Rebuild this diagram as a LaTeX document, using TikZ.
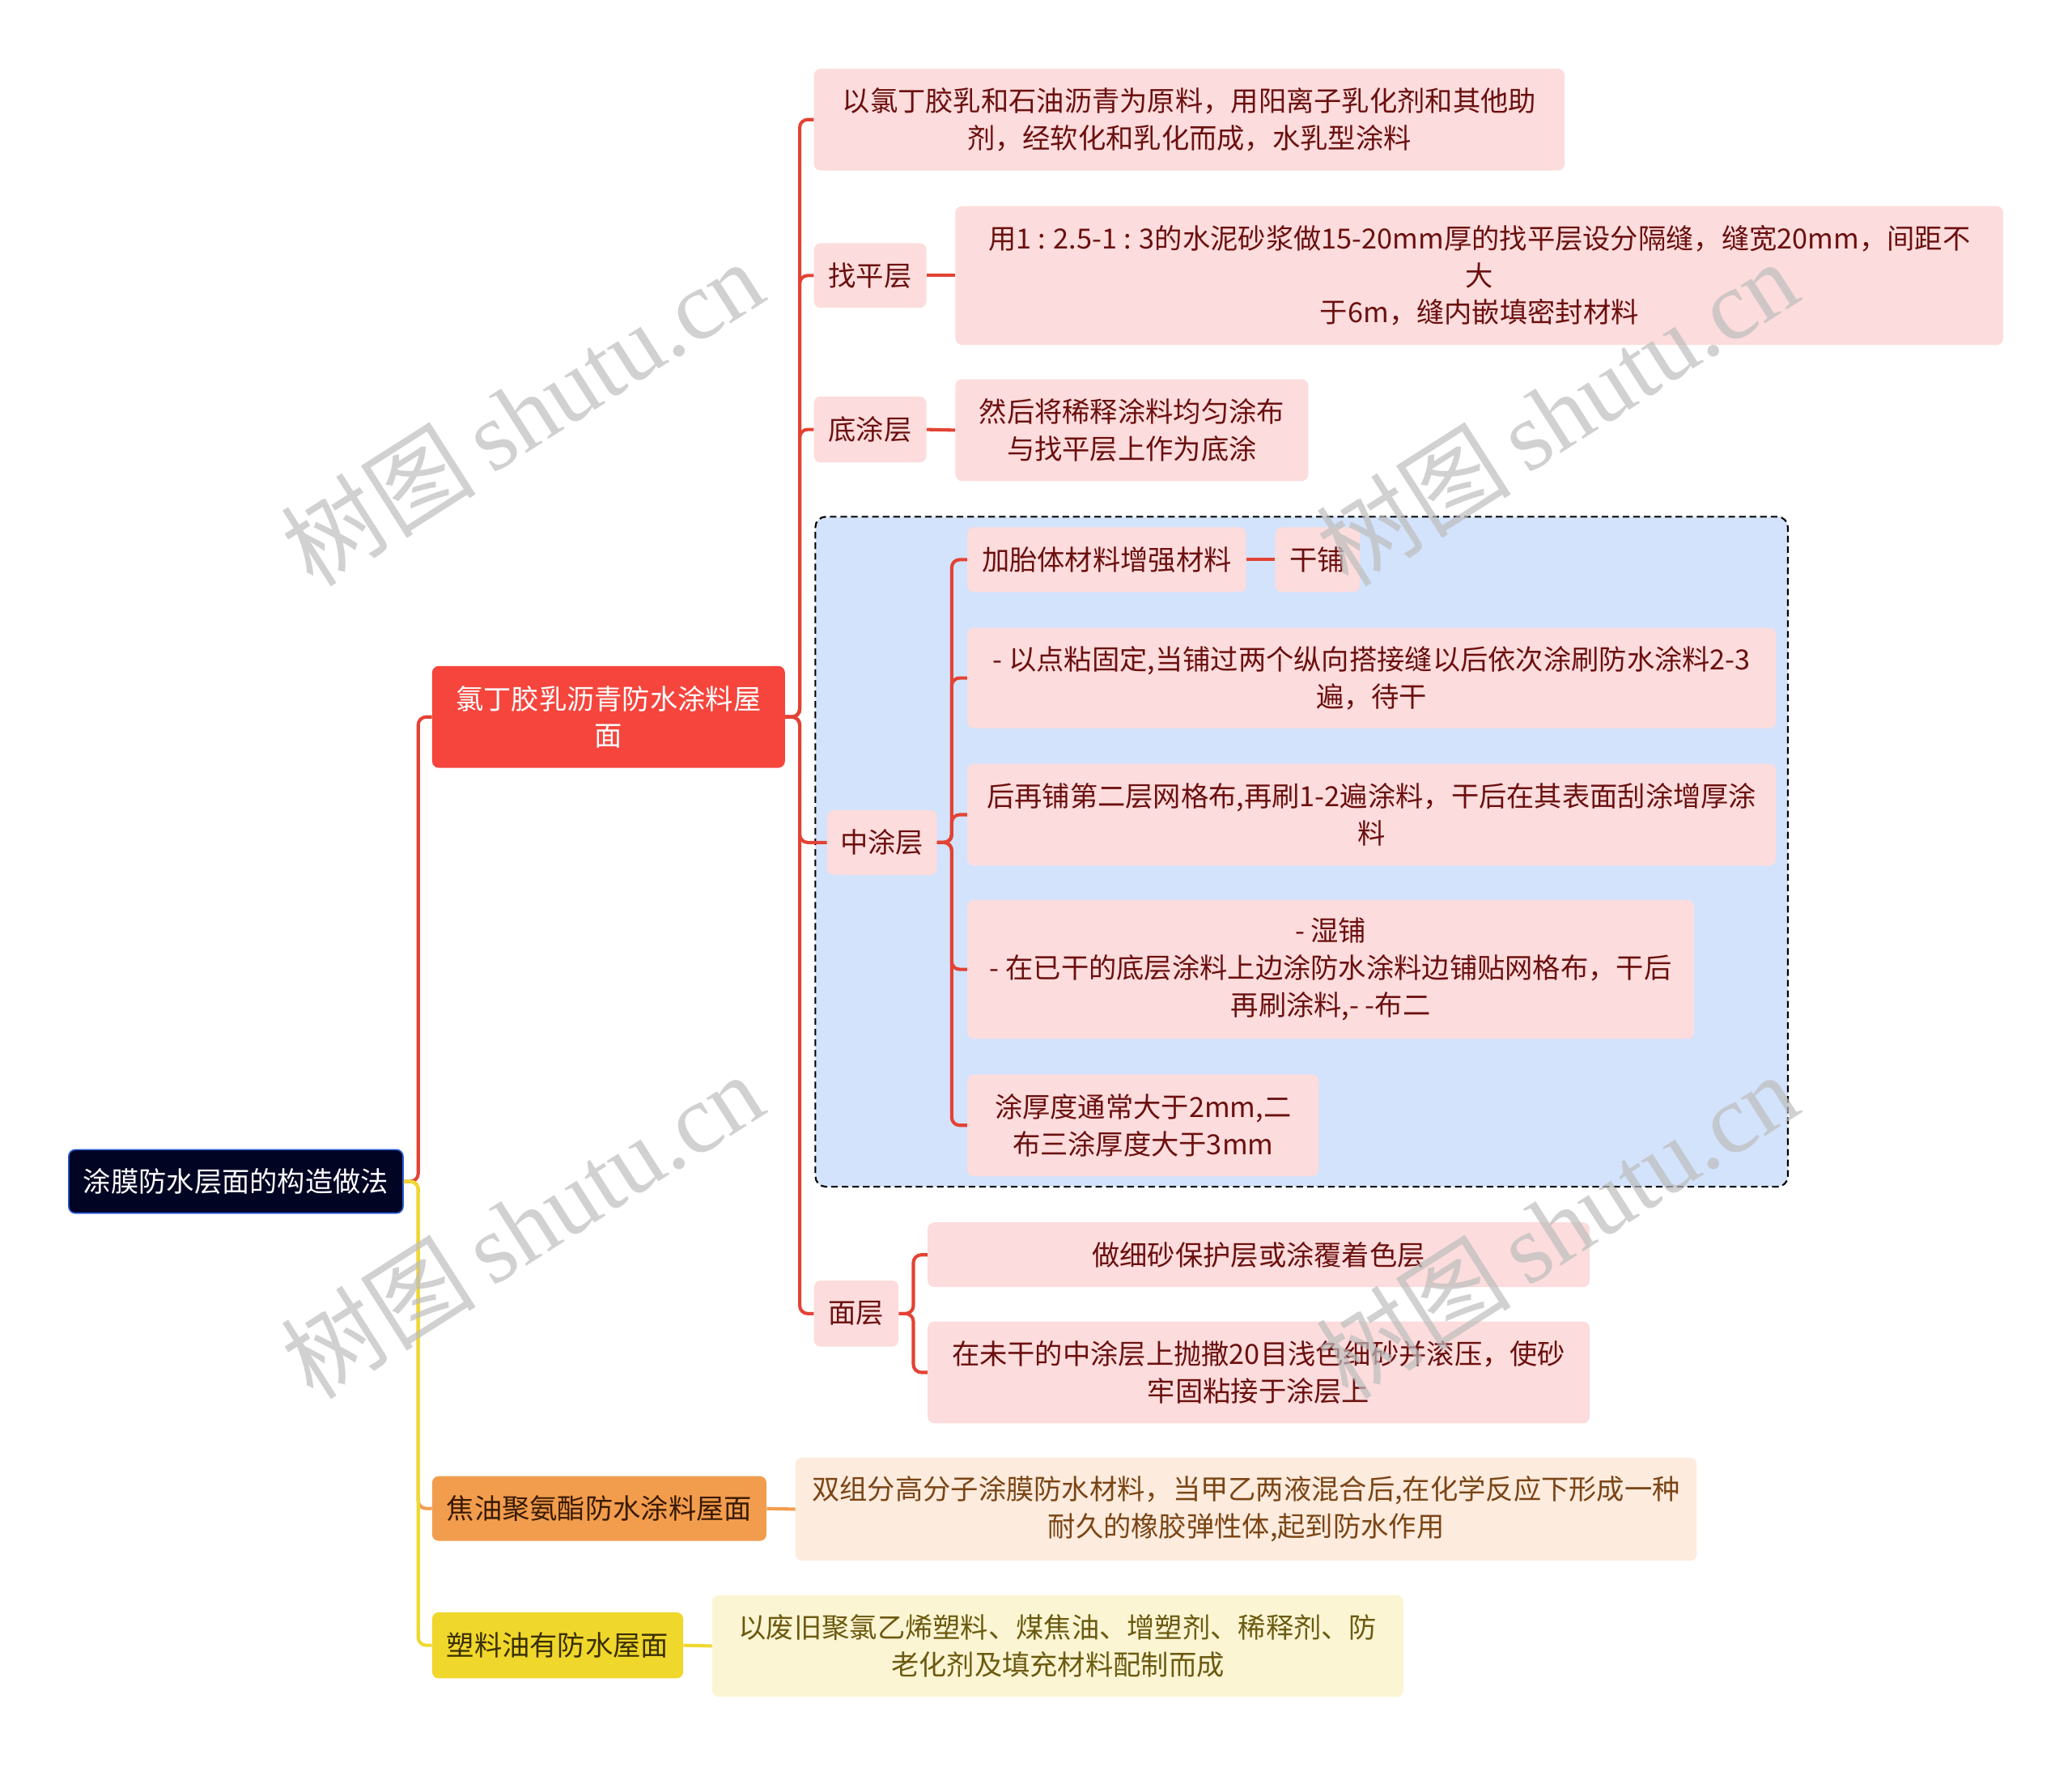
\documentclass[tikz,border=0pt]{standalone}
\usepackage{fontspec}
\setmainfont{Noto Sans CJK SC}
\newfontfamily\wmfont{Liberation Serif}
\newfontfamily\wmcjk{Noto Sans CJK SC}
\definecolor{rootfill}{HTML}{020424}
\definecolor{rootdraw}{HTML}{2A5AD8}
\definecolor{redfill}{HTML}{F5453D}
\definecolor{pinkfill}{HTML}{FCDCDC}
\definecolor{pinktext}{HTML}{6B0F0F}
\definecolor{bluefill}{HTML}{D4E3FC}
\definecolor{orfill}{HTML}{F29D4E}
\definecolor{ortext}{HTML}{3A1A00}
\definecolor{orleaf}{HTML}{FDEBDD}
\definecolor{orleaftext}{HTML}{7A4516}
\definecolor{yefill}{HTML}{F0D72B}
\definecolor{yetext}{HTML}{3A3000}
\definecolor{yeleaf}{HTML}{FCF5D3}
\definecolor{yeleaftext}{HTML}{6B5A10}
\definecolor{redline}{HTML}{E34234}
\definecolor{orline}{HTML}{F29D4E}
\definecolor{yeline}{HTML}{EFD830}
\definecolor{wmgray}{HTML}{BDBDBD}
\begin{document}
\begin{tikzpicture}[x=1pt,y=-1pt,
  base/.style={inner sep=0pt, rounded corners=5pt, align=center, font=\fontsize{21}{28}\selectfont},
  rootbox/.style={base, fill=rootfill, draw=rootdraw, line width=1pt, text=white},
  redbox/.style={base, fill=redfill, text=white},
  pinkbox/.style={base, fill=pinkfill, text=pinktext},
  orbox/.style={base, fill=orfill, text=ortext},
  orleafbox/.style={base, fill=orleaf, text=orleaftext},
  yebox/.style={base, fill=yefill, text=yetext},
  yeleafbox/.style={base, fill=yeleaf, text=yeleaftext},
  rline/.style={draw=redline, line width=2.5pt, rounded corners=6pt},
  oline/.style={draw=orline, line width=2.5pt, rounded corners=6pt},
  yline/.style={draw=yeline, line width=2.5pt, rounded corners=6pt},
  wm/.style={text=wmgray, opacity=0.7, font=\fontsize{74}{74}\selectfont}
]
\useasboundingbox (0,0) rectangle (1568,1337);

% dashed frame
\node[draw=black, dash pattern=on 5pt off 3pt, line width=1.3pt, fill=bluefill, rounded corners=8pt, minimum width=736pt, minimum height=507pt, inner sep=0pt] (frame) at (985,644.5) {};

% nodes
\node[rootbox, minimum width=253pt, minimum height=48pt] (root) at (178.5,894) {涂膜防水层面的构造做法};
\node[redbox, minimum width=267pt, minimum height=77pt] (red) at (460.5,542.5) {氯丁胶乳沥青防水涂料屋\\面};
\node[orbox, minimum width=253pt, minimum height=49pt] (orange) at (453.5,1141.5) {焦油聚氨酯防水涂料屋面};
\node[yebox, minimum width=190pt, minimum height=50pt] (yellow) at (422,1245) {塑料油有防水屋面};
\node[orleafbox, minimum width=682pt, minimum height=78pt] (oleaf) at (943,1142) {双组分高分子涂膜防水材料，当甲乙两液混合后,在化学反应下形成一种\\耐久的橡胶弹性体,起到防水作用};
\node[yeleafbox, minimum width=523pt, minimum height=77pt] (yleaf) at (800.5,1245.5) {以废旧聚氯乙烯塑料、煤焦油、增塑剂、稀释剂、防\\老化剂及填充材料配制而成};

\node[pinkbox, minimum width=568pt, minimum height=77pt] (p1) at (900,90.5) {以氯丁胶乳和石油沥青为原料，用阳离子乳化剂和其他助\\剂，经软化和乳化而成，水乳型涂料};
\node[pinkbox, minimum width=85pt, minimum height=49pt] (zp) at (658.5,208.5) {找平层};
\node[pinkbox, minimum width=793pt, minimum height=105pt] (zpl) at (1119.5,208.5) {用1 : 2.5-1 : 3的水泥砂浆做15-20mm厚的找平层设分隔缝，缝宽20mm，间距不\\大\\于6m，缝内嵌填密封材料};
\node[pinkbox, minimum width=85pt, minimum height=50pt] (dt) at (658.5,325) {底涂层};
\node[pinkbox, minimum width=267pt, minimum height=77pt] (dtl) at (856.5,325.5) {然后将稀释涂料均匀涂布\\与找平层上作为底涂};

\node[pinkbox, minimum width=83pt, minimum height=49pt] (zt) at (667.5,637.5) {中涂层};
\node[pinkbox, minimum width=211pt, minimum height=49pt] (a1) at (837.5,423.5) {加胎体材料增强材料};
\node[pinkbox, minimum width=64pt, minimum height=49pt] (a1b) at (997,423.5) {干铺};
\node[pinkbox, minimum width=612pt, minimum height=76pt] (a2) at (1038,513) {- 以点粘固定,当铺过两个纵向搭接缝以后依次涂刷防水涂料2-3\\遍，待干};
\node[pinkbox, minimum width=612pt, minimum height=77pt] (a3) at (1038,616.5) {后再铺第二层网格布,再刷1-2遍涂料，干后在其表面刮涂增厚涂\\料};
\node[pinkbox, minimum width=550pt, minimum height=105pt] (a4) at (1007,733.5) {- 湿铺\\- 在已干的底层涂料上边涂防水涂料边铺贴网格布，干后\\再刷涂料,- -布二};
\node[pinkbox, minimum width=266pt, minimum height=77pt] (a5) at (865,851.5) {涂厚度通常大于2mm,二\\布三涂厚度大于3mm};

\node[pinkbox, minimum width=64pt, minimum height=50pt] (mc) at (648,994) {面层};
\node[pinkbox, minimum width=501pt, minimum height=49pt] (m1) at (952.5,949.5) {做细砂保护层或涂覆着色层};
\node[pinkbox, minimum width=501pt, minimum height=77pt] (m2) at (952.5,1038.5) {在未干的中涂层上抛撒20目浅色细砂并滚压，使砂\\牢固粘接于涂层上};

% connectors
\draw[rline] (root.east) -- ++(11,0) |- (red.west);
\draw[oline] (root.east) -- ++(11,0) |- (orange.west);
\draw[yline] (root.east) -- ++(11,0) |- (yellow.west);
\draw[oline, rounded corners=0pt] (orange.east) -- (oleaf.west);
\draw[yline, rounded corners=0pt] (yellow.east) -- (yleaf.west);

\foreach \c in {p1,zp,dt,zt,mc}
  \draw[rline] (red.east) -- ++(11,0) |- (\c.west);
\draw[rline] (zp.east) -- (zpl.west);
\draw[rline] (dt.east) -- (dtl.west);
\foreach \c in {a1,a2,a3,a4,a5}
  \draw[rline] (zt.east) -- ++(11,0) |- (\c.west);
\draw[rline] (a1.east) -- (a1b.west);
\foreach \c in {m1,m2}
  \draw[rline] (mc.east) -- ++(11,0) |- (\c.west);

% watermarks
\foreach \p in {(395,312),(1178,312),(395,927),(1178,927)}
  \node[wm, rotate=32.5] at \p {\wmcjk 树图\,\wmfont shutu.cn};
\end{tikzpicture}
\end{document}
